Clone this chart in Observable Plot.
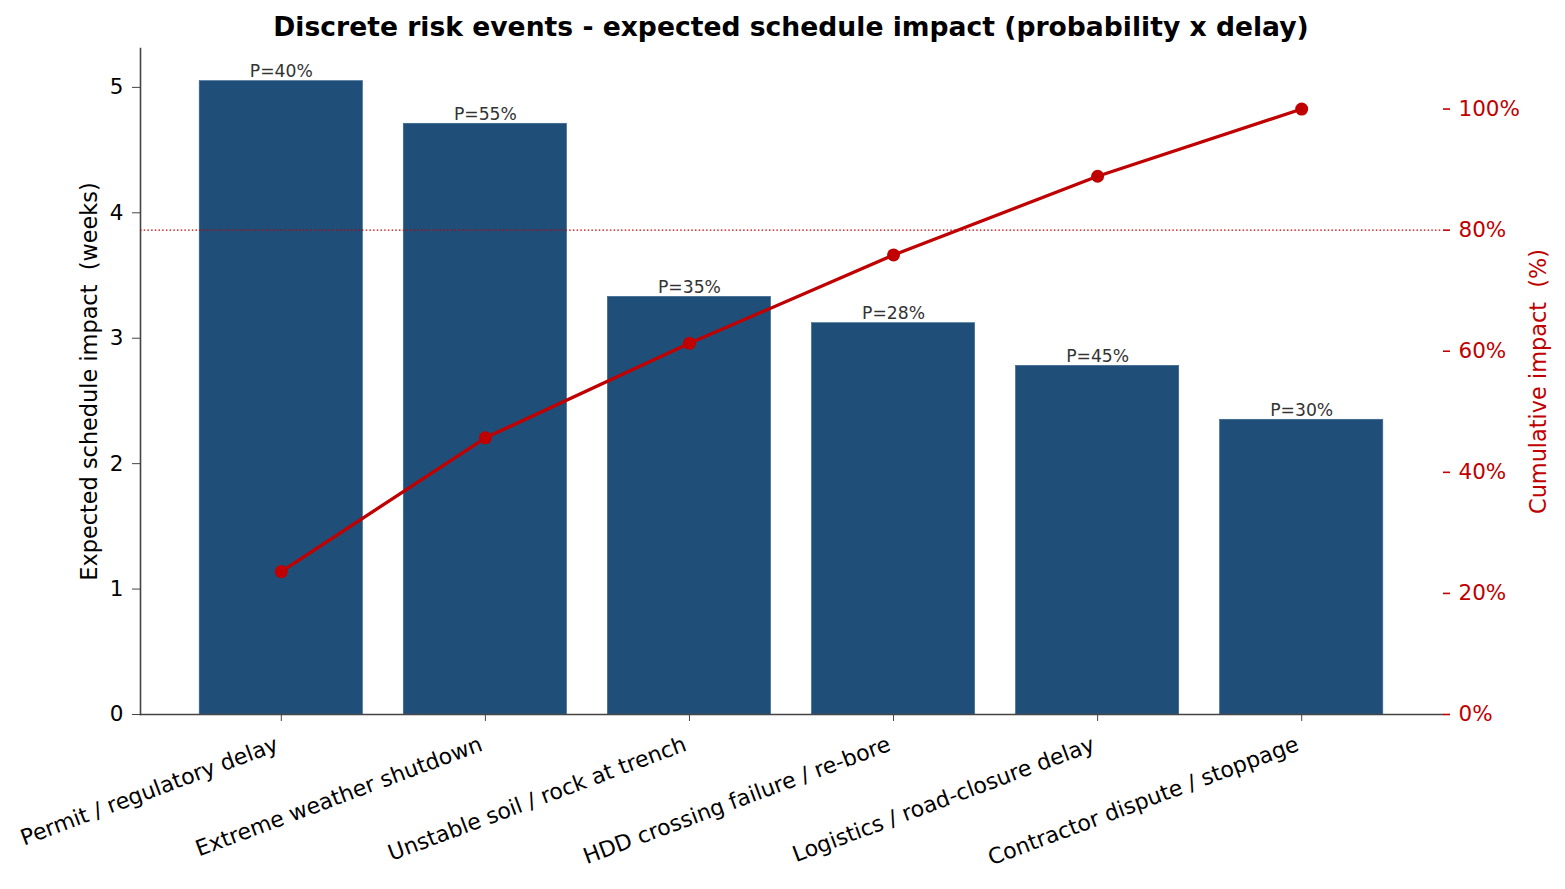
<!DOCTYPE html>
<html>
<head>
<meta charset="utf-8">
<script src="https://cdn.jsdelivr.net/npm/d3@7"></script>
<script src="https://cdn.jsdelivr.net/npm/@observablehq/plot@0.6"></script>
<style>
  html, body { margin: 0; padding: 0; background: #fff; }
  #wrap { position: relative; width: 1565px; height: 889px; font-family: "DejaVu Sans", sans-serif; }
  #wrap > svg, #wrap > figure { position: absolute; left: 0; top: 0; margin: 0; }
  #title { position: absolute; left: 140px; width: 1302px; top: 11px; text-align: center;
           font: bold 26.6px "DejaVu Sans", sans-serif; color: #000; white-space: nowrap; }
</style>
</head>
<body>
<div id="wrap">
  <div id="title">Discrete risk events - expected schedule impact (probability x delay)</div>
</div>
<script>
const categories = [
  "Permit / regulatory delay",
  "Extreme weather shutdown",
  "Unstable soil / rock at trench",
  "HDD crossing failure / re-bore",
  "Logistics / road-closure delay",
  "Contractor dispute / stoppage"
];
const impactWeeks = [5.05, 4.71, 3.33, 3.12, 2.78, 2.35];
const probabilityLabels = ["P=40%", "P=55%", "P=35%", "P=28%", "P=45%", "P=30%"];
const cumulativePct = [23.6, 45.7, 61.3, 75.9, 88.9, 100];
const leftTicks = [0, 1, 2, 3, 4, 5];
const rightTicks = [0, 20, 40, 60, 80, 100];
const thresholdPct = [80];

const barColor = "#1f4e79";
const red = "#c00000";
const W = 1565, H = 889;
const margins = {marginTop: 48, marginRight: 123, marginBottom: 175, marginLeft: 140};
const xOpts = {type: "band", domain: categories, paddingInner: 0.2, paddingOuter: 0.29, round: false};
const FS = 21.5;
const LFS = 22.4;

const bars = categories.map((c, i) => ({cat: c, v: impactWeeks[i], p: probabilityLabels[i]}));
const cum = categories.map((c, i) => ({cat: c, pct: cumulativePct[i]}));

const p1 = Plot.plot({
  width: W, height: H, ...margins,
  style: {fontFamily: "DejaVu Sans, sans-serif", fontSize: FS + "px", color: "#000", background: "transparent"},
  x: xOpts,
  y: {domain: [0, 5.31]},
  marks: [
    Plot.barY(bars, {x: "cat", y: "v", fill: barColor, stroke: "#3a6890", strokeWidth: 0.6}),
    Plot.text(bars, {x: "cat", y: "v", text: "p", lineAnchor: "bottom", dy: -4, fill: "#333", fontSize: 17.2}),
    Plot.axisY({ticks: leftTicks, tickFormat: d => String(d), tickSize: 8, tickPadding: 9, stroke: "#444", fill: "#000", fontSize: FS, label: null}),
    Plot.axisY({ticks: [], tickSize: 0, fontSize: LFS, fill: "#000",
      label: "Expected schedule impact  (weeks)", labelAnchor: "center", labelOffset: 59, labelArrow: false}),
    Plot.axisX({tickSize: 7, tickFormat: () => "", stroke: "#444", label: null}),
    Plot.axisX({tickSize: 0, tickRotate: -20.5, tickPadding: 29, dx: -4, fill: "#000", fontSize: 22, label: null}),
    Plot.frame({anchor: "left", stroke: "#444", strokeWidth: 1.6}),
    Plot.frame({anchor: "bottom", stroke: "#444", strokeWidth: 1.6})
  ]
});

const p2 = Plot.plot({
  width: W, height: H, ...margins,
  style: {fontFamily: "DejaVu Sans, sans-serif", fontSize: FS + "px", background: "transparent"},
  x: xOpts,
  y: {domain: [0, 110]},
  marks: [
    Plot.ruleY(thresholdPct, {stroke: red, strokeWidth: 1.2, strokeDasharray: "1.5,2.2"}),
    Plot.line(cum, {x: "cat", y: "pct", stroke: red, strokeWidth: 3.3}),
    Plot.dot(cum, {x: "cat", y: "pct", fill: red, r: 6.5}),
    Plot.axisY({anchor: "right", ticks: rightTicks, tickFormat: d => d + "%", tickSize: 7, tickPadding: 9,
      stroke: red, strokeWidth: 1.6, fill: red, fontSize: FS, label: null}),
    Plot.axisY({anchor: "right", ticks: [], tickSize: 0, fill: red, fontSize: LFS,
      label: "Cumulative impact  (%)", labelAnchor: "center", labelOffset: 103, labelArrow: false}),
    Plot.axisX({ticks: [], label: null})
  ]
});

const wrap = document.getElementById("wrap");
wrap.insertBefore(p1, wrap.firstChild);
wrap.appendChild(p2);
</script>
</body>
</html>
